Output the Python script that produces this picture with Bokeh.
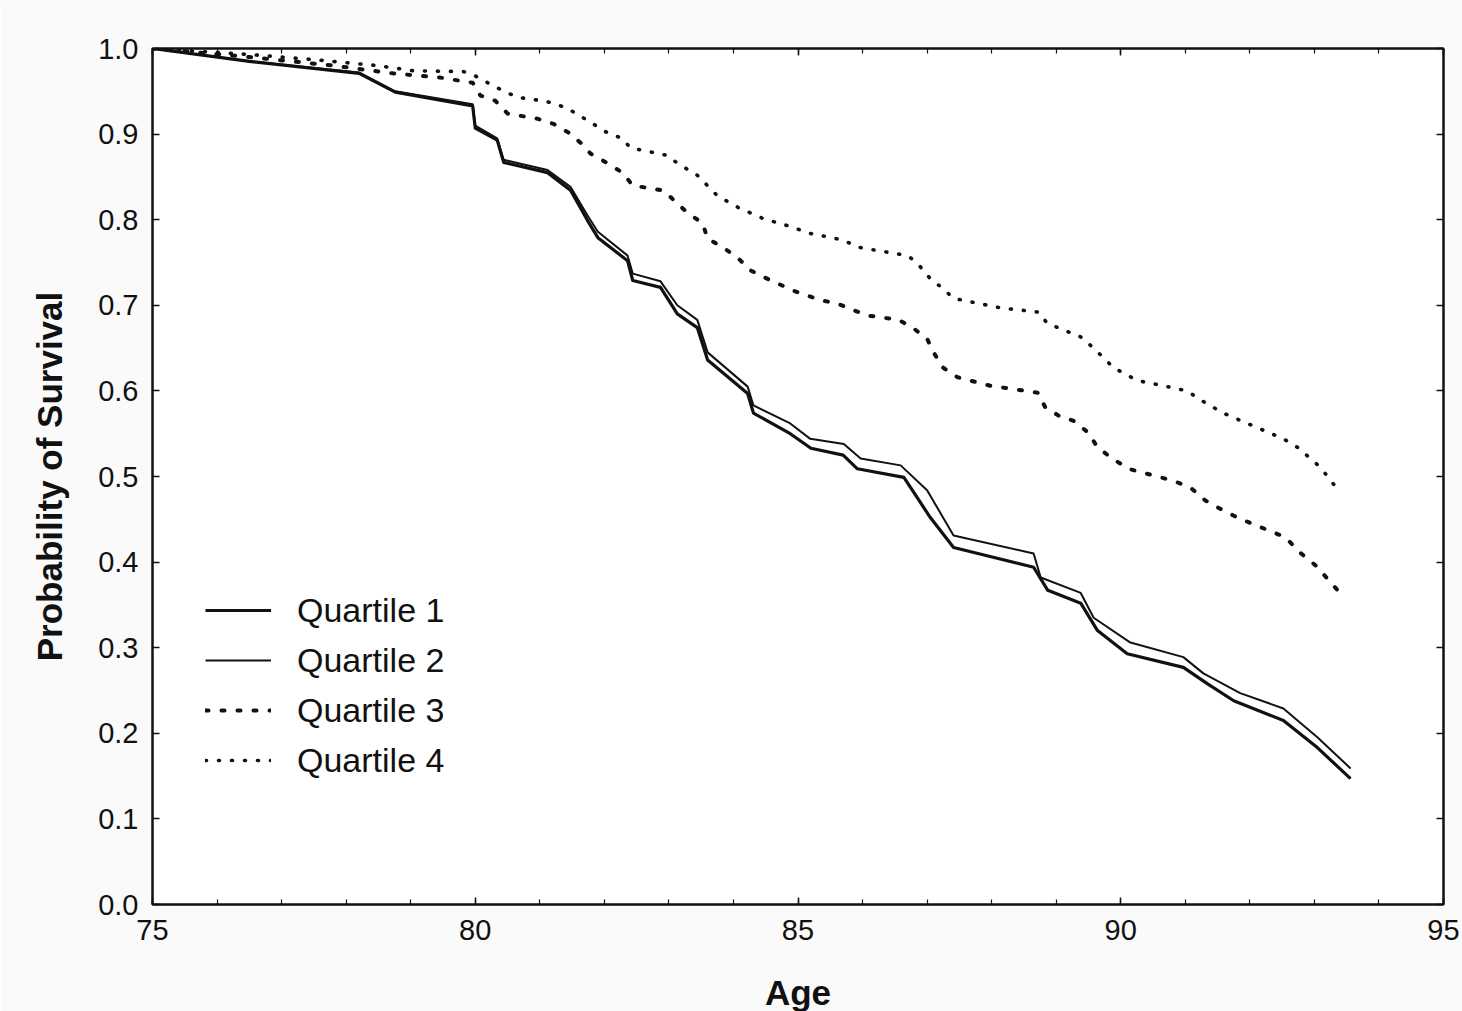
from bokeh.plotting import figure
from bokeh.models import (Range1d, FixedTicker, LinearAxis, Legend, LegendItem,
                          PrintfTickFormatter)
from bokeh.embed import file_html
from bokeh.resources import INLINE

# Kaplan-Meier style survival curves by quartile
q1_age = [75, 76.5, 78.2, 78.76, 79.96, 80.0, 80.34, 80.44, 81.12, 81.48, 81.74, 81.9,
          82.36, 82.44, 82.87, 83.13, 83.44, 83.6, 84.22, 84.31, 84.88, 85.2, 85.7,
          85.92, 86.64, 86.85, 87.05, 87.41, 88.65, 88.87, 89.38, 89.64, 90.1, 90.97,
          91.34, 91.75, 92.52, 93.05, 93.56]
q1_surv = [1.0, 0.985, 0.971, 0.949, 0.933, 0.907, 0.893, 0.867, 0.855, 0.834, 0.799, 0.779,
           0.752, 0.729, 0.721, 0.690, 0.674, 0.636, 0.597, 0.574, 0.550, 0.533, 0.525,
           0.509, 0.499, 0.475, 0.452, 0.417, 0.394, 0.367, 0.352, 0.320, 0.293, 0.277,
           0.258, 0.238, 0.215, 0.183, 0.147]

q2_age = [75, 76.5, 78.2, 78.76, 79.96, 80.0, 80.34, 80.44, 81.12, 81.48, 81.74, 81.9,
          82.36, 82.44, 82.87, 83.13, 83.44, 83.6, 84.22, 84.31, 84.88, 85.19, 85.71,
          85.97, 86.59, 87.0, 87.41, 88.65, 88.76, 89.38, 89.58, 90.15, 90.97, 91.28,
          91.85, 92.52, 93.05, 93.56]
q2_surv = [1.0, 0.985, 0.972, 0.950, 0.935, 0.910, 0.895, 0.870, 0.858, 0.838, 0.805, 0.786,
           0.758, 0.737, 0.728, 0.700, 0.683, 0.645, 0.605, 0.583, 0.562, 0.544, 0.538,
           0.521, 0.513, 0.484, 0.431, 0.410, 0.382, 0.364, 0.335, 0.306, 0.289, 0.270,
           0.247, 0.229, 0.195, 0.159]

q3_age = [75, 76.5, 77.8, 78.72, 79.46, 79.96, 80.08, 80.31, 80.5, 80.96, 81.21, 81.44,
          81.63, 81.79, 82.05, 82.28, 82.44, 82.92, 83.13, 83.29, 83.52, 83.6, 83.83,
          84.06, 84.26, 84.47, 84.93, 85.35, 85.61, 85.84, 86.08, 86.56, 86.79, 87.0,
          87.1, 87.25, 87.47, 87.98, 88.71, 88.83, 89.04, 89.27, 89.5, 89.64, 89.87,
          90.12, 90.62, 90.85, 91.08, 91.31, 91.57, 91.81, 92.06, 92.29, 92.55, 92.78,
          93.02, 93.22, 93.43]
q3_surv = [1.0, 0.990, 0.980, 0.971, 0.966, 0.960, 0.945, 0.939, 0.924, 0.918, 0.912, 0.902,
           0.890, 0.877, 0.866, 0.855, 0.840, 0.834, 0.819, 0.808, 0.796, 0.778, 0.768,
           0.756, 0.741, 0.733, 0.717, 0.706, 0.702, 0.695, 0.688, 0.683, 0.673, 0.661,
           0.645, 0.627, 0.616, 0.606, 0.598, 0.581, 0.571, 0.565, 0.551, 0.534, 0.521,
           0.509, 0.499, 0.494, 0.487, 0.472, 0.461, 0.452, 0.444, 0.437, 0.429, 0.411,
           0.396, 0.379, 0.361]

q4_age = [75, 76.5, 77.5, 78.49, 79.04, 79.82, 80.0, 80.34, 80.65, 81.04, 81.21, 81.43,
          81.74, 82.06, 82.28, 82.4, 82.98, 83.13, 83.44, 83.75, 84.08, 84.47, 84.84,
          85.19, 85.71, 85.92, 86.7, 86.85, 87.05, 87.24, 87.41, 88.14, 88.73, 88.86,
          89.38, 89.58, 89.89, 90.26, 90.66, 91.03, 91.2, 91.59, 91.96, 92.52, 92.74,
          93.09, 93.4]
q4_surv = [1.0, 0.993, 0.987, 0.980, 0.974, 0.973, 0.968, 0.954, 0.943, 0.939, 0.936, 0.930,
           0.916, 0.901, 0.895, 0.884, 0.875, 0.866, 0.852, 0.828, 0.814, 0.801, 0.793,
           0.784, 0.776, 0.768, 0.758, 0.749, 0.731, 0.720, 0.708, 0.697, 0.692, 0.679,
           0.663, 0.650, 0.627, 0.612, 0.606, 0.600, 0.591, 0.574, 0.562, 0.544, 0.534,
           0.511, 0.481]

series_names = ["Quartile 1", "Quartile 2", "Quartile 3", "Quartile 4"]
x_ticks = [75, 80, 85, 90, 95]
x_minor = list(range(75, 96))
y_ticks = [0.0, 0.1, 0.2, 0.3, 0.4, 0.5, 0.6, 0.7, 0.8, 0.9, 1.0]

FONT = "Liberation Sans"
INK = "#111111"

p = figure(frame_width=1291, frame_height=856, output_backend="svg",
           toolbar_location=None,
           x_range=Range1d(75, 95), y_range=Range1d(0, 1),
           min_border_left=152, min_border_right=19, min_border_top=48,
           min_border_bottom=107)
p.border_fill_color = "#fafafa"
p.background_fill_color = "white"
p.outline_line_color = INK
p.outline_line_width = 2
p.xgrid.visible = False
p.ygrid.visible = False

def style_axis(ax, labels=True):
    ax.axis_line_color = INK
    ax.axis_line_width = 2
    ax.major_tick_line_color = INK
    ax.minor_tick_line_color = INK
    ax.major_tick_line_width = 1.5
    ax.minor_tick_line_width = 1.2
    ax.major_tick_in = 7
    ax.major_tick_out = 0
    ax.minor_tick_in = 5
    ax.minor_tick_out = 0
    if labels:
        ax.major_label_text_font = FONT
        ax.major_label_text_font_size = "29px"
        ax.major_label_text_color = INK
        ax.axis_label_text_font = FONT
        ax.axis_label_text_font_size = "35px"
        ax.axis_label_text_font_style = "bold"
        ax.axis_label_text_color = INK
    else:
        ax.major_label_text_font_size = "0px"
        ax.major_label_text_alpha = 0

xax = p.xaxis[0]
xax.ticker = FixedTicker(ticks=x_ticks, minor_ticks=x_minor)
xax.axis_label = "Age"
xax.major_label_standoff = 15
xax.axis_label_standoff = 30
style_axis(xax)

yax = p.yaxis[0]
yax.ticker = FixedTicker(ticks=y_ticks, minor_ticks=[])
yax.formatter = PrintfTickFormatter(format="%.1f")
yax.axis_label = "Probability of Survival"
yax.major_label_standoff = 14
yax.axis_label_standoff = 26
style_axis(yax)

top = LinearAxis(ticker=FixedTicker(ticks=x_ticks, minor_ticks=x_minor))
style_axis(top, labels=False)
p.add_layout(top, "above")
right = LinearAxis(ticker=FixedTicker(ticks=y_ticks, minor_ticks=[]))
style_axis(right, labels=False)
p.add_layout(right, "right")

r1 = p.line(q1_age, q1_surv, line_color=INK, line_width=3.2, line_join="round")
r2 = p.line(q2_age, q2_surv, line_color=INK, line_width=2.0, line_join="round")
# rounded caps turn short dashes into dots
r3 = p.line(q3_age, q3_surv, line_color=INK, line_width=4.0, line_dash="3 13",
            line_cap="round", line_join="round")
r4 = p.line(q4_age, q4_surv, line_color=INK, line_width=3.6, line_dash="1 12",
            line_cap="round", line_join="round")

legend = Legend(items=[LegendItem(label=n, renderers=[r])
                       for n, r in zip(series_names, [r1, r2, r3, r4])],
                location=(53, 124), padding=0, margin=0, spacing=10,
                glyph_width=66, glyph_height=40, label_height=40,
                label_standoff=26, label_text_font=FONT,
                label_text_font_size="34px", label_text_color=INK,
                border_line_alpha=0, background_fill_alpha=0)
p.add_layout(legend, "center")

open("out.html", "w").write(file_html(p, INLINE))
